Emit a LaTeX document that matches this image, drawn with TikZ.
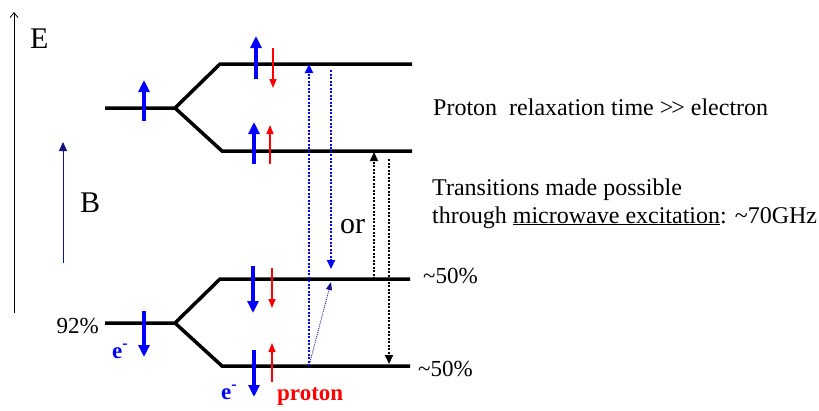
\documentclass[tikz,border=0pt]{standalone}
\usepackage{fontspec}
\setmainfont{Liberation Serif}
\usetikzlibrary{arrows.meta}
\definecolor{navy}{RGB}{20,20,130}

\tikzset{
  level/.style={line width=3.5pt,line join=miter},
  espin/.style={blue,line width=4pt,-{Triangle[length=12pt,width=11pt]}},
  pspin/.style={red,line width=1.3pt,-{Triangle[length=9pt,width=7pt]}},
  trans/.style={line width=2pt,dash pattern=on 2pt off 1.5pt,
    -{Triangle[length=9pt,width=8pt]}},
  big/.style={font=\fontsize{30}{36}\selectfont,inner sep=0pt},
  txt/.style={font=\fontsize{24}{28}\selectfont,inner sep=0pt},
  pct/.style={font=\fontsize{23}{28}\selectfont,inner sep=0pt},
}

\begin{document}
\begin{tikzpicture}[x=1pt,y=-1pt]
            \useasboundingbox (0,0) rectangle (819,410);
            % axes
            \draw[line width=0.8pt,-{Straight Barb[length=5pt,width=8pt]}]
              (14,313) coordinate (E0) -- (14,12) coordinate (E1);
            \draw (30,48) node[big,anchor=base west] (E) {E};
            \draw[navy,line width=1pt,-{Triangle[length=9pt,width=8pt]}]
              (63,263) coordinate (B0) -- (63,142) coordinate (B1);
            \draw (80,212) node[big,anchor=base west] (B) {B};
            % levels, upper group
            \coordinate (s1) at (175,108);
            \coordinate (h1) at (220,64);
            \coordinate (l1) at (222,151);
            \draw[level] (105,108) -- (s1) -- (h1) -- (412,64) coordinate (h1r);
            \draw[level] (s1) -- (l1) -- (412,151) coordinate (l1r);
            % levels, lower group
            \coordinate (s2) at (175,323);
            \coordinate (h2) at (220,279);
            \coordinate (l2) at (222,366);
            \draw[level] (105,323) -- (s2) -- (h2) -- (410,279) coordinate (h2r);
            \draw[level] (s2) -- (l2) -- (410,366) coordinate (l2r);
            % spins
            \draw[espin] (144,121) -- (144,80);
            \draw[espin] (256,79) -- (256,36);
            \draw[pspin] (273,48) -- (273,88);
            \draw[espin] (254,164) -- (254,122);
            \draw[pspin] (270,164) -- (270,125);
            \draw[espin] (144,311) -- (144,357);
            \draw[espin] (253,266) -- (253,313);
            \draw[pspin] (272,268) -- (272,308);
            \draw[espin] (254,350) -- (254,397);
            \draw[pspin] (272,382) -- (272,343);
            % transitions
            \coordinate (t1) at (309,366);
            \coordinate (t2) at (309,64);
            \coordinate (t3) at (331,70);
            \coordinate (t4) at (331,269);
            \draw[trans,blue] (t1) -- (t2);
            \draw[trans,blue] (t3) -- (t4);
            \draw[navy,line width=0.8pt,dash pattern=on 1pt off 1pt,
              -{Triangle[length=8pt,width=6pt]}] (310,362) coordinate (n1) -- (331,282) coordinate (n2);
            \coordinate (t5) at (374,279);
            \coordinate (t6) at (374,152);
            \coordinate (t7) at (389,159);
            \coordinate (t8) at (389,364);
            \draw[trans] (t5) -- (t6);
            \draw[trans] (t7) -- (t8);
            \draw (340,233) node[big,anchor=base west] (or) {or};
            % labels
            \draw (99,333) node[pct,anchor=base east] (p92) {92\%};
            \draw (423,283) node[pct,anchor=base west] (p50a) {\textasciitilde 50\%};
            \draw (418,376) node[pct,anchor=base west] (p50b) {\textasciitilde 50\%};
            \draw (112,358) node[pct,anchor=base west,blue] (e1) {\textbf{e\textsuperscript{-}}};
            \draw (221,399) node[pct,anchor=base west,blue] (e2) {\textbf{e\textsuperscript{-}}};
            \draw (277,400) node[pct,anchor=base west,red] (prot) {\textbf{proton}};
            \draw (433,115) node[txt,anchor=base west] (relax)
              {Proton\ \ relaxation time \textgreater\kern-2pt\textgreater{} electron};
            \draw (432,195) node[txt,anchor=base west] (tr1) {Transitions made possible};
            \draw (432,223) node[txt,anchor=base west] (tr2)
              {through \underline{microwave excitation}: \textasciitilde 70GHz};
        \end{tikzpicture}
\end{document}
